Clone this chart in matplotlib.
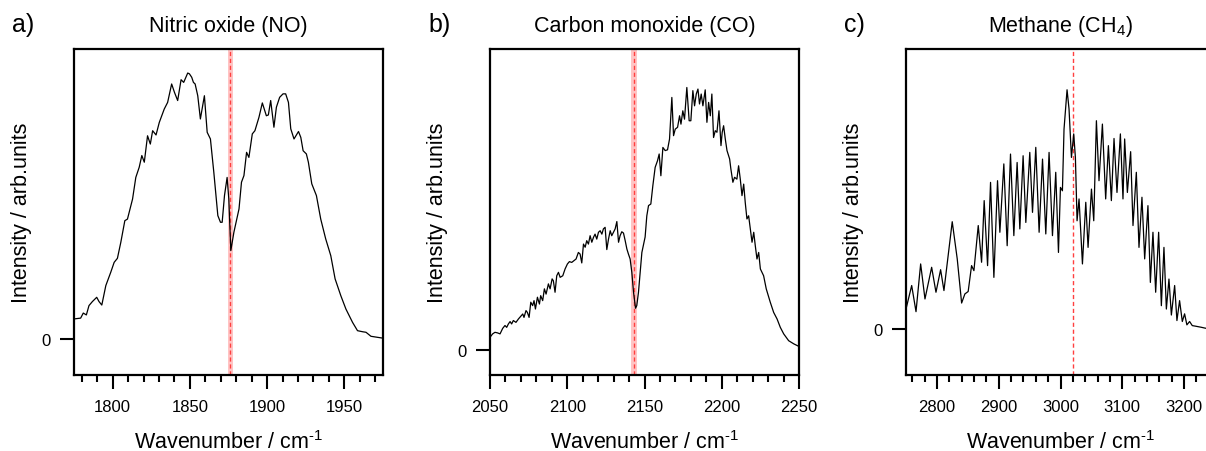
import matplotlib
matplotlib.use('Agg')
import matplotlib.pyplot as plt
import numpy as np
from matplotlib.ticker import FixedLocator, MultipleLocator

plt.rcParams['font.family'] = ['Liberation Sans', 'DejaVu Sans']
plt.rcParams['mathtext.fontset'] = 'custom'
plt.rcParams['mathtext.rm'] = 'Liberation Sans'
plt.rcParams['mathtext.it'] = 'Liberation Sans:italic'

# Nitric oxide (NO)
no_wn = [1775.0, 1779.3, 1781.0, 1783.0, 1784.7, 1786.9, 1789.7, 1791.2, 1793.0,
         1795.6, 1798.8, 1801.0, 1803.1, 1805.3, 1807.9, 1809.6, 1812.9, 1815.0,
         1817.2, 1818.9, 1820.5, 1822.6, 1824.4, 1825.9, 1828.1, 1830.2, 1833.4,
         1835.6, 1838.2, 1840.0, 1842.1, 1844.3, 1846.0, 1848.6, 1849.7, 1851.2,
         1852.3, 1853.4, 1855.1, 1856.8, 1859.4, 1861.2, 1863.3, 1865.5, 1868.1,
         1869.8, 1870.9, 1872.4, 1874.1, 1875.2, 1876.5, 1878.5, 1881.8, 1883.4,
         1885.0, 1886.7, 1888.2, 1890.4, 1892.1, 1894.7, 1896.9, 1899.5, 1900.8,
         1902.3, 1904.4, 1906.0, 1908.1, 1910.3, 1912.0, 1913.8, 1915.3, 1917.4,
         1920.3, 1921.8, 1923.3, 1925.4, 1926.7, 1928.9, 1931.9, 1934.7, 1937.9,
         1941.2, 1944.0, 1947.7, 1951.0, 1955.3, 1958.5, 1961.8, 1964.0, 1967.2,
         1971.6, 1975.0]
no_int = [0.075, 0.078, 0.097, 0.090, 0.125, 0.140, 0.156, 0.140, 0.127,
          0.200, 0.250, 0.287, 0.302, 0.362, 0.443, 0.449, 0.524, 0.605,
          0.643, 0.687, 0.662, 0.761, 0.730, 0.780, 0.764, 0.811, 0.861,
          0.886, 0.955, 0.924, 0.893, 0.971, 0.961, 0.996, 0.993, 0.980,
          0.961, 0.955, 0.911, 0.824, 0.911, 0.774, 0.749, 0.624, 0.462,
          0.437, 0.437, 0.537, 0.605, 0.524, 0.331, 0.400, 0.487, 0.587,
          0.612, 0.699, 0.680, 0.768, 0.780, 0.830, 0.884, 0.836, 0.839,
          0.893, 0.793, 0.868, 0.905, 0.918, 0.918, 0.886, 0.787, 0.749,
          0.777, 0.755, 0.705, 0.693, 0.662, 0.581, 0.537, 0.449, 0.375,
          0.312, 0.225, 0.162, 0.112, 0.062, 0.031, 0.027, 0.025, 0.010,
          0.006, 0.003]

# Carbon monoxide (CO)
co_wn = [2050.0, 2051.7, 2053.2, 2054.8, 2056.5, 2058.2, 2059.7, 2060.8, 2061.9,
         2063.0, 2064.0, 2065.1, 2066.8, 2068.4, 2069.9, 2071.2, 2072.0, 2073.3,
         2074.2, 2075.3, 2076.4, 2077.6, 2078.5, 2079.4, 2080.7, 2082.0, 2082.8,
         2084.1, 2085.2, 2086.3, 2087.8, 2088.9, 2090.2, 2091.0, 2092.1, 2093.2,
         2094.3, 2095.4, 2097.1, 2098.6, 2100.1, 2101.4, 2102.9, 2104.4, 2105.7,
         2107.2, 2108.3, 2109.4, 2110.5, 2111.6, 2112.6, 2113.7, 2114.8, 2115.9,
         2117.0, 2118.0, 2119.1, 2120.2, 2121.3, 2122.4, 2123.4, 2124.5, 2125.6,
         2126.7, 2127.8, 2128.8, 2129.9, 2131.0, 2132.1, 2133.2, 2134.2, 2135.3,
         2136.4, 2137.5, 2138.6, 2139.6, 2140.7, 2141.8, 2142.9, 2144.2, 2145.0,
         2146.1, 2147.2, 2148.3, 2149.4, 2150.4, 2151.5, 2152.6, 2154.1, 2155.4,
         2156.9, 2158.4, 2159.5, 2160.6, 2161.9, 2163.4, 2164.9, 2166.2, 2167.7,
         2168.8, 2169.9, 2171.4, 2172.7, 2173.6, 2174.8, 2175.9, 2177.4, 2178.9,
         2180.0, 2181.3, 2182.4, 2183.5, 2184.6, 2185.6, 2186.7, 2187.8, 2189.3,
         2190.4, 2191.5, 2192.6, 2193.6, 2194.7, 2195.8, 2196.9, 2198.2, 2199.5,
         2200.3, 2201.2, 2202.3, 2203.4, 2205.1, 2205.9, 2207.2, 2208.3, 2209.8,
         2210.9, 2212.0, 2213.1, 2214.2, 2215.2, 2216.3, 2217.4, 2218.5, 2219.6,
         2220.7, 2221.7, 2222.8, 2223.9, 2225.0, 2227.1, 2228.8, 2231.4, 2233.6,
         2235.8, 2237.9, 2240.1, 2243.3, 2246.6, 2250.0]
co_int = [0.047, 0.060, 0.066, 0.064, 0.060, 0.081, 0.092, 0.085, 0.098,
          0.107, 0.098, 0.111, 0.104, 0.117, 0.127, 0.136, 0.123, 0.149,
          0.142, 0.123, 0.181, 0.168, 0.187, 0.155, 0.200, 0.174, 0.206,
          0.187, 0.232, 0.212, 0.251, 0.232, 0.270, 0.263, 0.219, 0.282,
          0.295, 0.276, 0.282, 0.308, 0.327, 0.336, 0.333, 0.340, 0.346,
          0.371, 0.365, 0.331, 0.403, 0.391, 0.416, 0.403, 0.435, 0.410,
          0.429, 0.441, 0.422, 0.448, 0.454, 0.441, 0.461, 0.467, 0.382,
          0.422, 0.454, 0.435, 0.448, 0.461, 0.489, 0.410, 0.435, 0.450,
          0.445, 0.416, 0.384, 0.365, 0.346, 0.295, 0.219, 0.158, 0.168,
          0.219, 0.295, 0.371, 0.403, 0.430, 0.511, 0.550, 0.556, 0.626,
          0.696, 0.721, 0.747, 0.664, 0.772, 0.760, 0.763, 0.804, 0.963,
          0.817, 0.842, 0.849, 0.893, 0.861, 0.912, 0.880, 1.001, 0.874,
          0.874, 0.989, 0.931, 0.976, 0.995, 0.938, 0.976, 0.931, 0.992,
          0.868, 0.944, 0.893, 0.976, 0.810, 0.836, 0.830, 0.912, 0.779,
          0.830, 0.855, 0.804, 0.760, 0.728, 0.690, 0.639, 0.658, 0.651,
          0.702, 0.651, 0.588, 0.632, 0.562, 0.499, 0.511, 0.461, 0.410,
          0.448, 0.397, 0.346, 0.371, 0.308, 0.282, 0.232, 0.181, 0.142,
          0.117, 0.085, 0.060, 0.034, 0.022, 0.012]

# Methane (CH4)
ch4_wn = [2750.0, 2759.2, 2766.2, 2773.7, 2780.7, 2791.5, 2798.5, 2806.0, 2811.4,
          2824.8, 2832.9, 2840.0, 2845.3, 2850.6, 2856.1, 2859.9, 2866.9, 2872.3,
          2876.5, 2882.0, 2886.8, 2892.2, 2898.1, 2901.9, 2908.3, 2913.7, 2919.1,
          2924.5, 2929.8, 2934.2, 2939.5, 2943.9, 2950.3, 2954.7, 2960.0, 2965.4,
          2970.9, 2976.2, 2981.5, 2987.0, 2992.3, 2996.7, 2999.9, 3003.1, 3005.7,
          3010.6, 3013.8, 3017.7, 3021.4, 3024.1, 3026.8, 3030.0, 3035.5, 3040.9,
          3044.6, 3050.1, 3053.8, 3058.1, 3062.3, 3067.8, 3073.1, 3077.5, 3082.3,
          3086.6, 3091.4, 3096.9, 3101.1, 3103.8, 3108.2, 3113.5, 3117.3, 3122.7,
          3127.0, 3131.8, 3136.2, 3141.5, 3145.4, 3149.6, 3154.0, 3158.8, 3163.2,
          3167.4, 3171.3, 3175.5, 3179.4, 3184.7, 3188.4, 3192.7, 3197.1, 3200.8,
          3204.5, 3208.9, 3213.2, 3219.6, 3227.7, 3234.6, 3242.0, 3250.0]
ch4_int = [0.083, 0.181, 0.072, 0.271, 0.125, 0.257, 0.153, 0.247, 0.160,
           0.447, 0.292, 0.108, 0.146, 0.156, 0.264, 0.243, 0.431, 0.278,
           0.535, 0.264, 0.611, 0.215, 0.618, 0.403, 0.688, 0.347, 0.729,
           0.389, 0.694, 0.417, 0.722, 0.444, 0.736, 0.486, 0.757, 0.403,
           0.708, 0.396, 0.736, 0.389, 0.653, 0.319, 0.590, 0.576, 0.833,
           0.997, 0.917, 0.715, 0.813, 0.715, 0.451, 0.542, 0.271, 0.528,
           0.340, 0.583, 0.451, 0.868, 0.618, 0.854, 0.542, 0.764, 0.535,
           0.794, 0.569, 0.813, 0.542, 0.792, 0.569, 0.739, 0.431, 0.653,
           0.340, 0.549, 0.292, 0.514, 0.194, 0.403, 0.153, 0.403, 0.097,
           0.340, 0.083, 0.208, 0.058, 0.181, 0.035, 0.118, 0.031, 0.063,
           0.017, 0.031, 0.014, 0.011, 0.007, 0.003, 0.002, 0.001]

panels = [
    dict(wn=no_wn, y=no_int, label='a)', title='Nitric oxide (NO)',
         xlim=(1775, 1975), ylim=(-0.135, 1.086),
         major=[1800, 1850, 1900, 1950], minor=10,
         band=(1874.9, 1877.6), line=1876.2, left=74),
    dict(wn=co_wn, y=co_int, label='b)', title='Carbon monoxide (CO)',
         xlim=(2050, 2250), ylim=(-0.097, 1.148),
         major=[2050, 2100, 2150, 2200, 2250], minor=10,
         band=(2141.5, 2145.0), line=2143.5, left=490),
    dict(wn=ch4_wn, y=ch4_int, label='c)', title='Methane (CH$_4$)',
         xlim=(2750, 3250), ylim=(-0.192, 1.167),
         major=[2800, 2900, 3000, 3100, 3200], minor=20,
         band=None, line=3020, left=906),
]

W, H = 1206, 452
fig = plt.figure(figsize=(W / 100, H / 100), dpi=100)

for p in panels:
    ax = fig.add_axes([p['left'] / W, (H - 376) / H, 309 / W, 326 / H])
    if p['band'] is not None:
        ax.axvspan(*p['band'], color='#ffc4c4', lw=0, zorder=1)
    ax.axvline(p['line'], color='#ff4040', lw=1.0, ls=(0, (3, 2)), zorder=2)
    ax.plot(p['wn'], p['y'], color='black', lw=0.9, zorder=3)
    ax.set_xlim(*p['xlim'])
    ax.set_ylim(*p['ylim'])
    ax.xaxis.set_major_locator(FixedLocator(p['major']))
    ax.xaxis.set_minor_locator(MultipleLocator(p['minor']))
    ax.set_yticks([0])
    for s in ax.spines.values():
        s.set_linewidth(1.6)
    ax.tick_params(axis='both', which='major', direction='out', length=10,
                   width=1.5, labelsize=12, pad=7)
    ax.tick_params(axis='x', which='minor', direction='out', length=5, width=1.5)
    ax.set_title(p['title'], fontsize=15.5, pad=13)
    ax.set_xlabel(r'Wavenumber / cm$^{\text{-}1}$', fontsize=15.5)
    ax.set_ylabel('Intensity / arb.units', fontsize=15.5)
    ax.xaxis.set_label_coords(0.5, -0.168)
    ax.yaxis.set_label_coords(-0.137, 0.5)
    fig.text((p['left'] - 62) / W, 1 - 32 / H, p['label'], fontsize=18,
             va='baseline', ha='left')

fig.savefig('out.png', dpi=100)
